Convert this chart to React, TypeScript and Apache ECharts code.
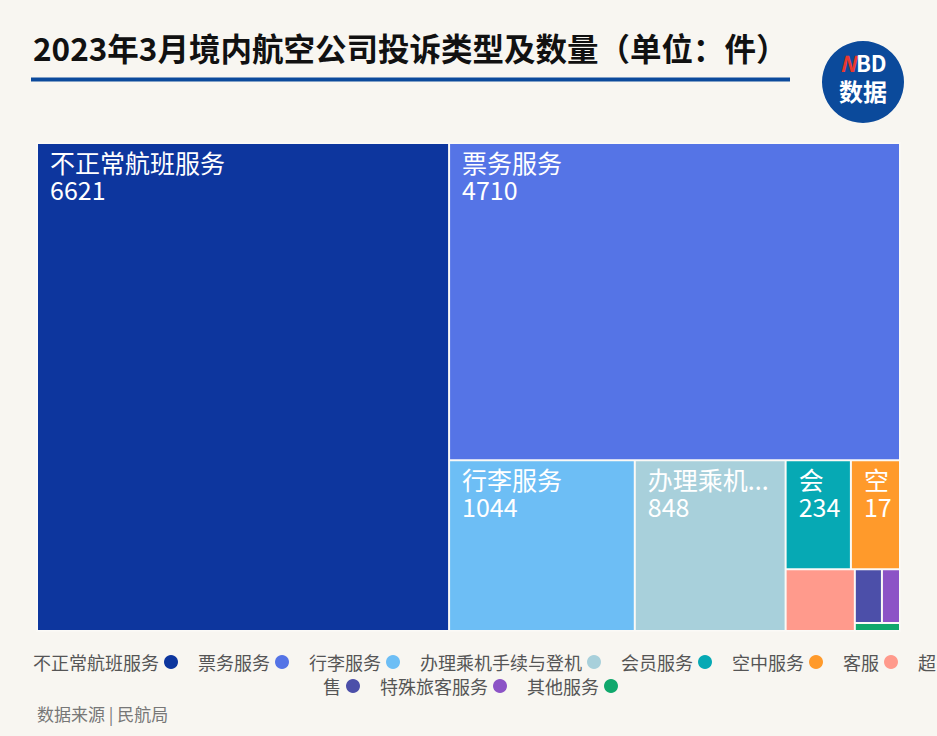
import React, { useEffect, useRef } from "react";
import * as echarts from "echarts";

const categories = [
  "不正常航班服务",
  "票务服务",
  "行李服务",
  "办理乘机手续与登机",
  "会员服务",
  "空中服务",
  "客服",
  "超售",
  "特殊旅客服务",
  "其他服务",
];
const values = [6621, 4710, 1044, 848, 234, 176, 141, 48, 32, 12];
const colors = [
  "#0d369e",
  "#5574e6",
  "#6dbef5",
  "#a8d0db",
  "#06a9b4",
  "#ff9a2b",
  "#ff9a8c",
  "#4c4fa9",
  "#8c53c6",
  "#10a86c",
];
const legendRow1 = categories.slice(0, 7);
const legendRow2 = categories.slice(7);

const FONT = "'Noto Sans CJK SC', 'Noto Sans', sans-serif";
const BG = "#f8f6f1";

export default function App() {
  const ref = useRef<HTMLDivElement>(null);
  useEffect(() => {
    document.body.style.margin = "0";
    const chart = echarts.init(ref.current!, null, { renderer: "svg" });
    const pieData = categories.map((name, i) => ({
      name,
      value: values[i],
      itemStyle: { color: colors[i] },
    }));
    const treeData = categories.map((name, i) => ({
      name,
      value: values[i],
      itemStyle: { color: colors[i] },
      label: { show: i < 6 },
    }));
    const legendBase = {
      orient: "horizontal",
      icon: "circle",
      align: "right",
      itemWidth: 14,
      itemHeight: 17,
      itemGap: 20,
      textStyle: { fontSize: 18, color: "#555", fontFamily: FONT },
      selectedMode: false,
    };
    chart.setOption({
      animation: false,
      backgroundColor: BG,
      textStyle: { fontFamily: FONT },
      legend: [
        { ...legendBase, left: 28, top: 648, width: 905, data: legendRow1 },
        {
          ...legendBase,
          left: 318,
          top: 672,
          width: 600,
          data: legendRow2,
          formatter: (n: string) => (n === "超售" ? "售" : n),
        },
      ],
      graphic: [
        {
          type: "text",
          left: 33,
          top: 31,
          style: {
            text: "2023年3月境内航空公司投诉类型及数量（单位：件）",
            fontSize: 31.5,
            fontWeight: "bold",
            fontFamily: FONT,
            fill: "#111",
          },
        },
        {
          type: "rect",
          shape: { x: 31, y: 77.5, width: 759, height: 4 },
          style: { fill: "#0c4a9c" },
        },
        {
          type: "circle",
          shape: { cx: 863, cy: 82, r: 41 },
          style: { fill: "#0b4a9b" },
        },
        {
          type: "text",
          x: 863,
          y: 62,
          style: {
            text: "{n|N}{b|BD}",
            align: "center",
            verticalAlign: "middle",
            rich: {
              n: { fill: "#e8382e", fontSize: 22, lineHeight: 22, fontWeight: "bold", fontStyle: "italic", fontFamily: FONT },
              b: { fill: "#fff", fontSize: 22, lineHeight: 22, fontWeight: "bold", fontFamily: FONT },
            },
          },
        },
        {
          type: "text",
          x: 863,
          y: 90,
          style: {
            text: "数据",
            align: "center",
            verticalAlign: "middle",
            fill: "#fff",
            fontSize: 24,
            lineHeight: 24,
            fontWeight: "bold",
            fontFamily: FONT,
          },
        },
        {
          type: "text",
          x: 918,
          y: 662,
          style: {
            text: "超",
            verticalAlign: "middle",
            fill: "#555",
            fontSize: 18,
            fontFamily: FONT,
          },
        },
        {
          type: "text",
          x: 37,
          y: 713,
          style: {
            text: "数据来源 | 民航局",
            verticalAlign: "middle",
            fill: "#777",
            fontSize: 17,
            fontFamily: FONT,
          },
        },
      ],
      series: [
        {
          type: "pie",
          radius: [0, 0],
          center: [-100, -100],
          silent: true,
          label: { show: false },
          labelLine: { show: false },
          data: pieData,
        },
        {
          type: "treemap",
          left: 36,
          top: 142,
          width: 865,
          height: 490,
          roam: false,
          nodeClick: false,
          breadcrumb: { show: false },
          label: {
            show: true,
            position: "insideTopLeft",
            formatter: "{b}\n{c}",
            fontSize: 25,
            lineHeight: 27,
            color: "#fff",
            fontFamily: FONT,
            padding: [4, 2, 0, 12],
          },
          itemStyle: {
            borderWidth: 1,
            borderColor: "rgba(255,255,255,0.25)",
            gapWidth: 0,
          },
          data: treeData,
        },
      ],
    });
    return () => chart.dispose();
  }, []);
  return <div ref={ref} style={{ width: 937, height: 736 }} />;
}
